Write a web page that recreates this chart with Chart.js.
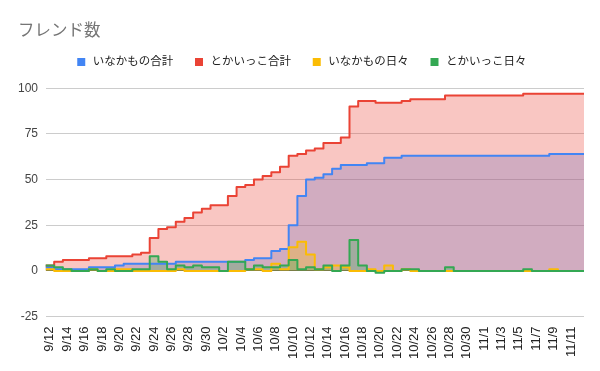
<!DOCTYPE html>
<html lang="ja">
<head>
  <meta charset="UTF-8">
  <title>フレンド数</title>
  <script src="https://cdn.jsdelivr.net/npm/chart.js"></script>
  <style>
    body { margin: 0; padding: 0; background: #fff; }
    #wrap { width: 600px; height: 371px; position: relative; }
  </style>
</head>
<body>
  <div id="wrap"><canvas id="chart"></canvas></div>

  <script>
    // 日付（1日ごと）
    const dates = [
      "9/12", "9/13", "9/14", "9/15", "9/16", "9/17", "9/18", "9/19", "9/20", "9/21",
      "9/22", "9/23", "9/24", "9/25", "9/26", "9/27", "9/28", "9/29", "9/30",
      "10/1", "10/2", "10/3", "10/4", "10/5", "10/6", "10/7", "10/8", "10/9", "10/10",
      "10/11", "10/12", "10/13", "10/14", "10/15", "10/16", "10/17", "10/18", "10/19", "10/20",
      "10/21", "10/22", "10/23", "10/24", "10/25", "10/26", "10/27", "10/28", "10/29", "10/30", "10/31",
      "11/1", "11/2", "11/3", "11/4", "11/5", "11/6", "11/7", "11/8", "11/9", "11/10", "11/11", "11/12"
    ];

    const inakaTotal = [
      2, 1, 1, 1, 1, 2, 2, 2, 3, 4, 4, 4, 4, 4, 4, 5, 5, 5, 5, 5,
      5, 5, 5, 6, 7, 7, 11, 12, 25, 41, 50, 51, 53, 56, 58, 58, 58, 59, 59, 62,
      62, 63, 63, 63, 63, 63, 63, 63, 63, 63, 63, 63, 63, 63, 63, 63, 63, 63, 64, 64,
      64, 64
    ];
    const tokaiTotal = [
      3, 5, 6, 6, 6, 7, 7, 8, 8, 8, 9, 10, 18, 23, 24, 27, 29, 32, 34, 36,
      36, 41, 46, 47, 50, 52, 54, 57, 63, 64, 66, 67, 70, 70, 73, 90, 93, 93, 92, 92,
      92, 93, 94, 94, 94, 94, 96, 96, 96, 96, 96, 96, 96, 96, 96, 97, 97, 97, 97, 97,
      97, 97
    ];
    const inakaDaily = [
      1, 0, 0, 0, 0, 1, 0, 0, 1, 1, 0, 0, 0, 0, 0, 1, 0, 0, 0, 0,
      0, 0, 0, 1, 1, 0, 4, 1, 13, 16, 9, 1, 2, 3, 2, 0, 0, 1, 0, 3,
      0, 1, 0, 0, 0, 0, 0, 0, 0, 0, 0, 0, 0, 0, 0, 0, 0, 0, 1, 0,
      0, 0
    ];
    const tokaiDaily = [
      3, 2, 1, 0, 0, 1, 0, 1, 0, 0, 1, 1, 8, 5, 1, 3, 2, 3, 2, 2,
      0, 5, 5, 1, 3, 2, 2, 3, 6, 1, 2, 1, 3, 0, 3, 17, 3, 0, -1, 0,
      0, 1, 1, 0, 0, 0, 2, 0, 0, 0, 0, 0, 0, 0, 0, 1, 0, 0, 0, 0,
      0, 0
    ];

    const seriesNames = ["いなかもの合計", "とかいっこ合計", "いなかもの日々", "とかいっこ日々"];
    const seriesColors = ["#4285F4", "#EA4335", "#FBBC04", "#34A853"];
    const fillColors = [
      "rgba(66, 133, 244, 0.3)", "rgba(234, 67, 53, 0.3)",
      "rgba(251, 188, 4, 0.3)", "rgba(52, 168, 83, 0.3)"
    ];

    // 各日を1マスとして階段状に描くため、最後の値をもう一度右端に置く
    function steps(values) {
      const pts = values.map((y, i) => ({ x: i, y: y }));
      pts.push({ x: values.length, y: values[values.length - 1] });
      return pts;
    }

    Chart.defaults.font.family = 'Arial, "Noto Sans CJK JP", sans-serif';

    // 凡例とグラフの間に余白を足す
    const legendMargin = {
      id: "legendMargin",
      beforeInit(chart) {
        const fit = chart.legend.fit;
        chart.legend.fit = function () {
          fit.bind(chart.legend)();
          this.height += 10.5;
        };
      }
    };

    const allSeries = [inakaTotal, tokaiTotal, inakaDaily, tokaiDaily];

    new Chart(document.getElementById("chart"), {
      type: "line",
      data: {
        datasets: allSeries.map((values, k) => ({
          label: seriesNames[k],
          data: steps(values),
          borderColor: seriesColors[k],
          backgroundColor: fillColors[k],
          borderWidth: 2,
          borderJoinStyle: "round",
          pointRadius: 0,
          stepped: "before",
          fill: "origin",
          order: allSeries.length - 1 - k
        }))
      },
      options: {
        responsive: true,
        maintainAspectRatio: false,
        animation: false,
        layout: { padding: { top: 0, left: 18, right: 16, bottom: 2.2 } },
        plugins: {
          filler: { drawTime: "beforeDatasetsDraw" },
          title: {
            display: true,
            text: "フレンド数",
            align: "start",
            color: "#757575",
            font: { size: 16.5, weight: "normal" },
            padding: { top: 21.8, bottom: -5.35 }
          },
          legend: {
            reverse: true,
            labels: {
              usePointStyle: true,
              pointStyle: "rect",
              boxWidth: 12,
              boxHeight: 8,
              padding: 20,
              color: "#222",
              font: { size: 11.5 },
              generateLabels: chart =>
                Chart.defaults.plugins.legend.labels.generateLabels(chart).map(item => ({
                  ...item,
                  fillStyle: chart.data.datasets[item.datasetIndex].borderColor,
                  lineWidth: 0
                }))
            }
          },
          tooltip: { enabled: false }
        },
        scales: {
          x: {
            type: "linear",
            min: 0,
            max: dates.length,
            grid: { display: false, drawTicks: false },
            border: { display: false },
            afterBuildTicks: scale => {
              scale.ticks = dates
                .map((d, i) => ({ value: i + 0.5 }))
                .filter((t, i) => i % 2 === 0);
            },
            ticks: {
              autoSkip: false,
              minRotation: 90,
              maxRotation: 90,
              padding: 9.8,
              color: "#222",
              font: { size: 13 },
              callback: value => dates[Math.round(value - 0.5)]
            }
          },
          y: {
            min: -25,
            max: 100,
            afterFit: scale => { scale.width = 27.5; },
            grid: {
              drawTicks: false,
              color: ctx => (ctx.tick && ctx.tick.value === 0 ? "#333333" : "#cccccc")
            },
            border: { display: false },
            ticks: {
              stepSize: 25,
              padding: 7.5,
              color: "#444",
              font: { size: 12 }
            }
          }
        }
      },
      plugins: [legendMargin]
    });
  </script>
</body>
</html>
